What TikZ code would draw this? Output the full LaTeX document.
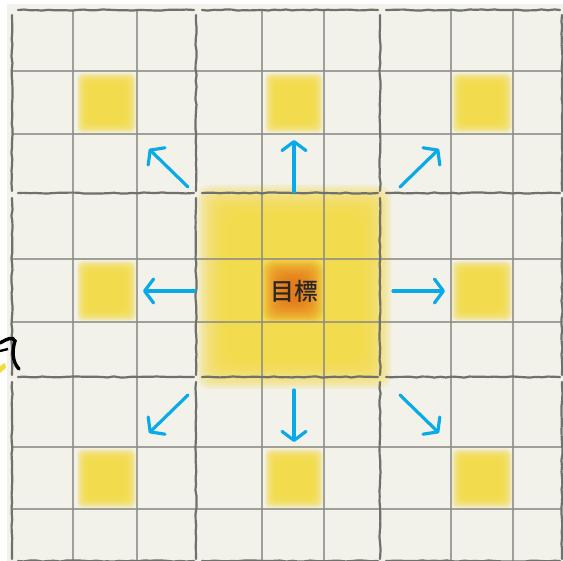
\documentclass[tikz,border=0pt]{standalone}
\usepackage{fontspec}
\newfontfamily\cjk{Noto Sans CJK TC}[UprightFont={* Medium}]
\usetikzlibrary{arrows.meta,calc,decorations.pathmorphing}
\definecolor{paper}{RGB}{242,241,234}
\definecolor{gridgray}{RGB}{140,140,136}
\definecolor{blockgray}{RGB}{112,112,108}
\definecolor{goal}{RGB}{242,220,68}
\definecolor{hot}{RGB}{230,104,20}
\definecolor{arrowblue}{RGB}{10,170,232}
\definecolor{inkdark}{RGB}{40,40,40}

\begin{document}
\begin{tikzpicture}[x=1pt, y=-1pt,
    thinline/.style = {draw=gridgray, line width=1.1pt, opacity=0.8},
    blockline/.style = {draw=blockgray, line width=2.2pt, line cap=round,
        decorate, decoration={random steps, segment length=6pt, amplitude=0.6pt}},
    glow/.style = {fill=goal, opacity=0.2, rounded corners=5pt},
    bigglow/.style = {fill=goal, opacity=0.15, rounded corners=12pt},
    hotglow/.style = {fill=hot, opacity=0.13, rounded corners=10pt},
    moveto/.style = {draw=arrowblue, line width=3.2pt, line cap=round,
        -{Straight Barb[length=9pt,width=24pt,round]}}]
    \useasboundingbox (0,0) rectangle (563,561);
    \fill[white] (0,0) rectangle (563,561);
    \fill[paper] (7,4) rectangle (563,561);

    % small yellow cells
    \foreach \xa/\xb in {77/136,265/323,452/512}
        \foreach \ya/\yb in {73/133,261/321,449/508}
            \foreach \i in {0,1,...,11}
                \fill[glow] (\xa+\i,\ya+\i) rectangle (\xb-\i,\yb-\i);
    % target block
    \foreach \i in {0,2,...,30}
        \fill[bigglow] (197+\i,185+\i) rectangle (391-\i,389-\i);
    \foreach \i in {0,2,...,22}
        \fill[hotglow] (263+\i,260+\i) rectangle (323-\i,322-\i);

    % grid
    \foreach \xa in {73,137,262,324,451,513}
        \draw[thinline] (\xa,10) -- (\xa,561);
    \foreach \ya in {71,134,259,322,447,509}
        \draw[thinline] (12,\ya) -- (562,\ya);
    \foreach \ya in {10,193,377,561}
        \foreach \xa/\xb in {12/196,196/380,380/562}
            \draw[blockline] (\xa+6,\ya) -- (\xb-2,\ya);
    \foreach \xa in {12,196,380,562}
        \foreach \ya/\yb in {10/193,193/377,377/561}
            \draw[blockline] (\xa,\ya+5) -- (\xa,\yb-2);

    \node[font=\cjk\fontsize{24}{24}\selectfont, text=inkdark] (target) at (294,291) {目標};

    % moves
    \foreach \ux/\uy in {1/0,-1/0,0/1,0/-1}
        \draw[moveto] ($(target.center)+(99*\ux,99*\uy)$) -- ($(target.center)+(151*\ux,151*\uy)$);
    \foreach \ux/\uy in {1/1,1/-1,-1/1,-1/-1}
        \draw[moveto] ($(target.center)+(106*\ux,104*\uy)$) -- ($(target.center)+(145*\ux,142*\uy)$);

    % piece cut off at the left
    \draw[black, line width=3.4pt, line cap=round]
        (0,343) .. controls (7,339) and (13,336) .. (15,341)
        .. controls (12,350) and (12,362) .. (19,369);
    \draw[black, line width=2.4pt] (0,351) -- (8,349);
    \fill[goal] (0,366) -- (5,363) -- (6,368) -- (0,373) -- cycle;
\end{tikzpicture}
\end{document}
